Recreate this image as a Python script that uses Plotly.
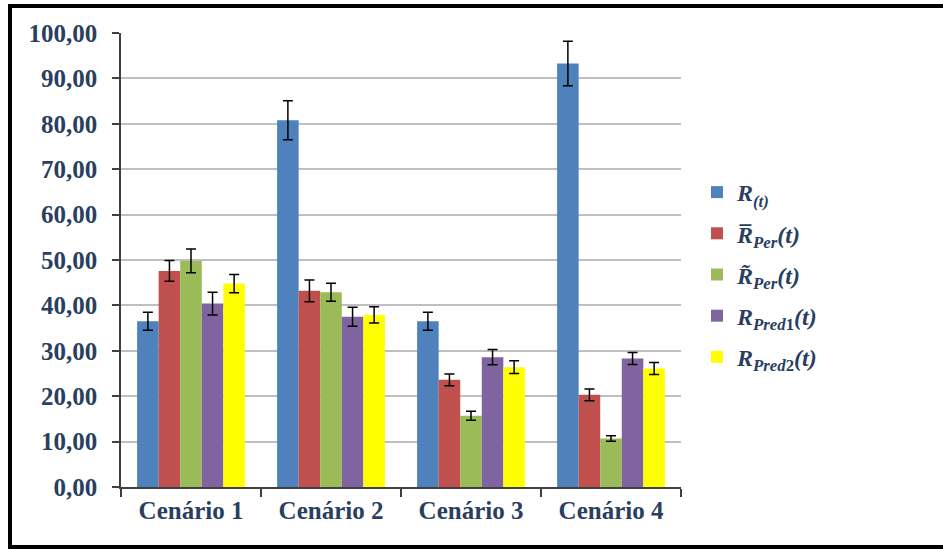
import plotly.graph_objects as go

# Scenario categories and tick values
cenarios = ["Cenário 1", "Cenário 2", "Cenário 3", "Cenário 4"]
y_ticks = [0, 10, 20, 30, 40, 50, 60, 70, 80, 90, 100]

# Mean values per series
r_t = [36.5, 80.8, 36.5, 93.3]
r_per_mean = [47.6, 43.2, 23.6, 20.3]
r_per_median = [49.8, 42.9, 15.7, 10.7]
r_pred1 = [40.4, 37.5, 28.6, 28.3]
r_pred2 = [44.8, 37.9, 26.4, 26.1]

# Error bar half-widths per series
err_r_t = [2.0, 4.3, 2.0, 4.9]
err_r_per_mean = [2.3, 2.4, 1.3, 1.3]
err_r_per_median = [2.6, 2.0, 1.0, 0.6]
err_r_pred1 = [2.5, 2.1, 1.7, 1.3]
err_r_pred2 = [2.0, 1.8, 1.4, 1.3]

series_names = [
    "<b><i>R</i></b><sub><b><i>(t)</i></b></sub>",
    "<b><i>R\u0305</i></b><sub><b><i>Per</i></b></sub><b><i>(t)</i></b>",
    "<b><i>R\u0303</i></b><sub><b><i>Per</i></b></sub><b><i>(t)</i></b>",
    "<b><i>R</i></b><sub><b><i>Pred</i>1</b></sub><b><i>(t)</i></b>",
    "<b><i>R</i></b><sub><b><i>Pred</i>2</b></sub><b><i>(t)</i></b>",
]
series_values = [r_t, r_per_mean, r_per_median, r_pred1, r_pred2]
series_errors = [err_r_t, err_r_per_mean, err_r_per_median, err_r_pred1, err_r_pred2]
series_colors = ["#4F81BD", "#C0504D", "#9BBB59", "#8064A2", "#FFFF00"]

W, H = 943, 549
ML, MR, MT, MB = 121, 262, 33, 62
PW, PH = W - ML - MR, H - MT - MB

fig = go.Figure()
for i, (name, vals, errs, col) in enumerate(zip(series_names, series_values, series_errors, series_colors)):
    fig.add_trace(go.Bar(
        x=cenarios, y=vals, name=name, legendgroup=f"g{i}",
        marker=dict(color=col, line=dict(width=0)),
        error_y=dict(type="data", array=errs, visible=True,
                     color="black", thickness=1.5, width=5),
    ))

# Outer frame (left, top and bottom sides) in plot-area paper units
def px_x(p):
    return (p - ML) / PW

def px_y(p):
    return (H - MB - p) / PH

xl, xr = px_x(10), px_x(943)
yt, yb = px_y(6), px_y(547)
fig.add_shape(type="path", xref="paper", yref="paper",
              path=f"M {xr},{yt} L {xl},{yt} L {xl},{yb} L {xr},{yb}",
              line=dict(color="black", width=4))

fig.update_layout(
    width=W, height=H,
    margin=dict(l=ML, r=MR, t=MT, b=MB, pad=0),
    paper_bgcolor="white", plot_bgcolor="white",
    barmode="group", bargap=0.23, bargroupgap=0,
    separators=",.",
    showlegend=True,
    legend=dict(x=px_x(697), y=px_y(170), xanchor="left", yanchor="top",
                font=dict(family="Liberation Serif", size=24),
                bgcolor="rgba(0,0,0,0)", tracegroupgap=7),
    xaxis=dict(
        tickfont=dict(family="Liberation Serif", size=25, weight="bold"),
        ticks="outside", tickson="boundaries", ticklen=8, tickwidth=1.5,
        tickcolor="#404040",
        showline=True, linecolor="#404040", linewidth=1.5,
        showgrid=False,
    ),
    yaxis=dict(
        range=[0, 100], tickvals=y_ticks, tickformat=".2f",
        tickfont=dict(family="Liberation Serif", size=25, weight="bold"),
        ticks="outside", ticklen=7, tickwidth=1.5, tickcolor="#404040",
        ticklabelstandoff=10,
        showline=True, linecolor="#404040", linewidth=1.5,
        showgrid=True, gridcolor="#BFBFBF", gridwidth=1.5,
        zeroline=False,
    ),
)

fig.write_html("out.html")
